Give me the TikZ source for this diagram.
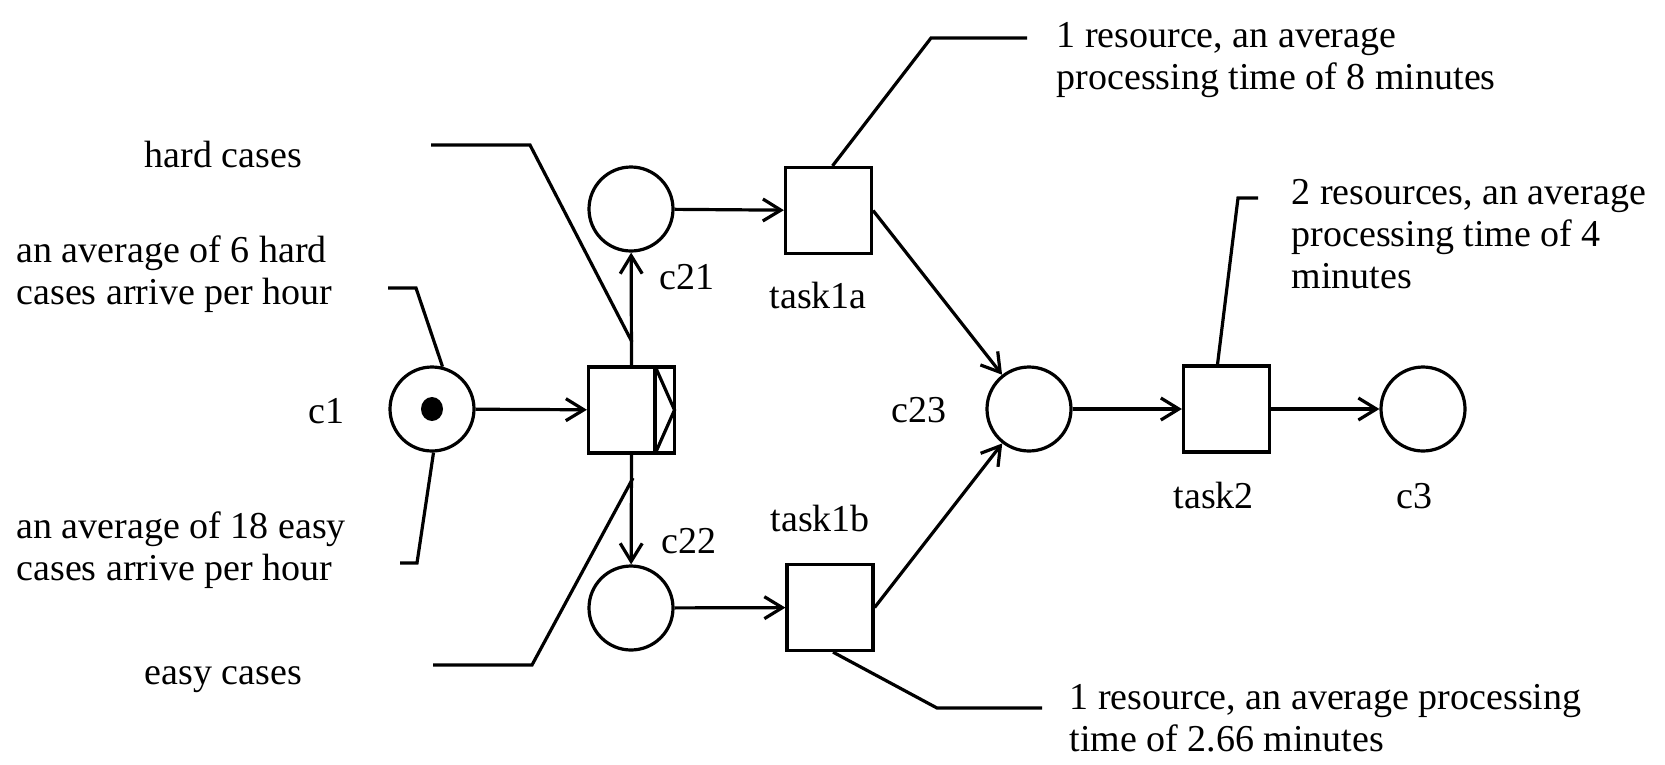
\documentclass[tikz,border=0pt]{standalone}
\usepackage{fontspec}
\setmainfont{Liberation Serif}
\usetikzlibrary{arrows.meta,calc}
\begin{document}
\begin{tikzpicture}[x=1pt,y=-1pt,line width=3.2pt,
  place/.style={circle,draw,minimum size=84pt,inner sep=0pt},
  trans/.style={rectangle,draw,minimum size=86pt,inner sep=0pt},
  arr/.style={-{Straight Barb[length=18pt,width=22pt]}},
  lbl/.style={inner sep=0pt,anchor=base west,font=\fontsize{38}{42}\selectfont},
  note/.style={lbl,align=left}]
\useasboundingbox (0,0) rectangle (1665,764);
% places and transitions
\node[place] (c1) at (432,409) {};
\fill (c1.center) ellipse [x radius=11pt,y radius=12pt];
\node[trans] (split) at (631.5,410) {};
\draw (655,366) -- (655,454);
\draw (655,366) -- (674.5,410) -- (655,454);
\node[place] (c21) at (631,209) {};
\node[place] (c22) at (631,608) {};
\node[trans] (t1a) at (828.5,210.5) {};
\node[trans] (t1b) at (830,607.5) {};
\node[place] (c23) at (1029,409) {};
\node[trans] (t2) at (1226.5,409) {};
\node[place] (c3) at (1423,409) {};
% arcs
\draw[arr] (c1) -- (split);
\draw[arr] (split.north) -- (c21);
\draw[arr] (split.south) -- (c22);
\draw[arr] (c21) -- (t1a);
\draw[arr] (c22) -- (t1b);
\draw[arr] (t1a.east) -- (c23);
\draw[arr] (t1b.east) -- (c23);
\draw[arr] (c23) -- (t2);
\draw[arr] (t2) -- (c3);
% labels
\node[lbl] (lc1) at (307,423) {c1};
\node[lbl] (lc21) at (658,289) {c21};
\node[lbl] (lt1a) at (768,308) {task1a};
\node[lbl] (lc23) at (890,422) {c23};
\node[lbl] (lc22) at (660,553) {c22};
\node[lbl] (lt1b) at (769,531) {task1b};
\node[lbl] (lt2) at (1172,508) {task2};
\node[lbl] (lc3) at (1395,508) {c3};
% notes (anchor at baseline of last line)
\node[lbl] (nhard) at (143,167) {hard cases};
\node[note] (n6) at (15,304) {an average of 6 hard\\cases arrive per hour};
\node[note] (n18) at (15,580) {an average of 18 easy\\cases arrive per hour};
\node[lbl] (neasy) at (143,684) {easy cases};
\node[note] (nr1) at (1055,89) {1 resource, an average\\processing time of 8 minutes};
\node[note] (nr2) at (1290,288) {2 resources, an average\\processing time of 4\\minutes};
\node[note] (nr3) at (1068,751) {1 resource, an average processing\\time of 2.66 minutes};
% callout lines
\coordinate (h1) at (431,145); \coordinate (h2) at (530,145); \coordinate (h3) at (632,342);
\draw (h1) -- (h2) -- (h3);
\coordinate (s1) at (388,288); \coordinate (s2) at (416,288);
\draw (s1) -- (s2) -- (c1.76);
\coordinate (e1) at (400,563); \coordinate (e2) at (417,563);
\draw (c1.-88) -- (e2) -- (e1);
\coordinate (y1) at (433,665); \coordinate (y2) at (532,665); \coordinate (y3) at (633,478);
\draw (y1) -- (y2) -- (y3);
\coordinate (r1a) at (931,38); \coordinate (r1b) at (1027,38);
\draw ($(t1a.north)+(4,0)$) -- (r1a) -- (r1b);
\coordinate (r2a) at (1238,198); \coordinate (r2b) at (1258,198);
\draw ($(t2.north)+(-9,0)$) -- (r2a) -- (r2b);
\coordinate (r3a) at (937,708); \coordinate (r3b) at (1042,708);
\draw ($(t1b.south)+(3,0)$) -- (r3a) -- (r3b);
\end{tikzpicture}
\end{document}
